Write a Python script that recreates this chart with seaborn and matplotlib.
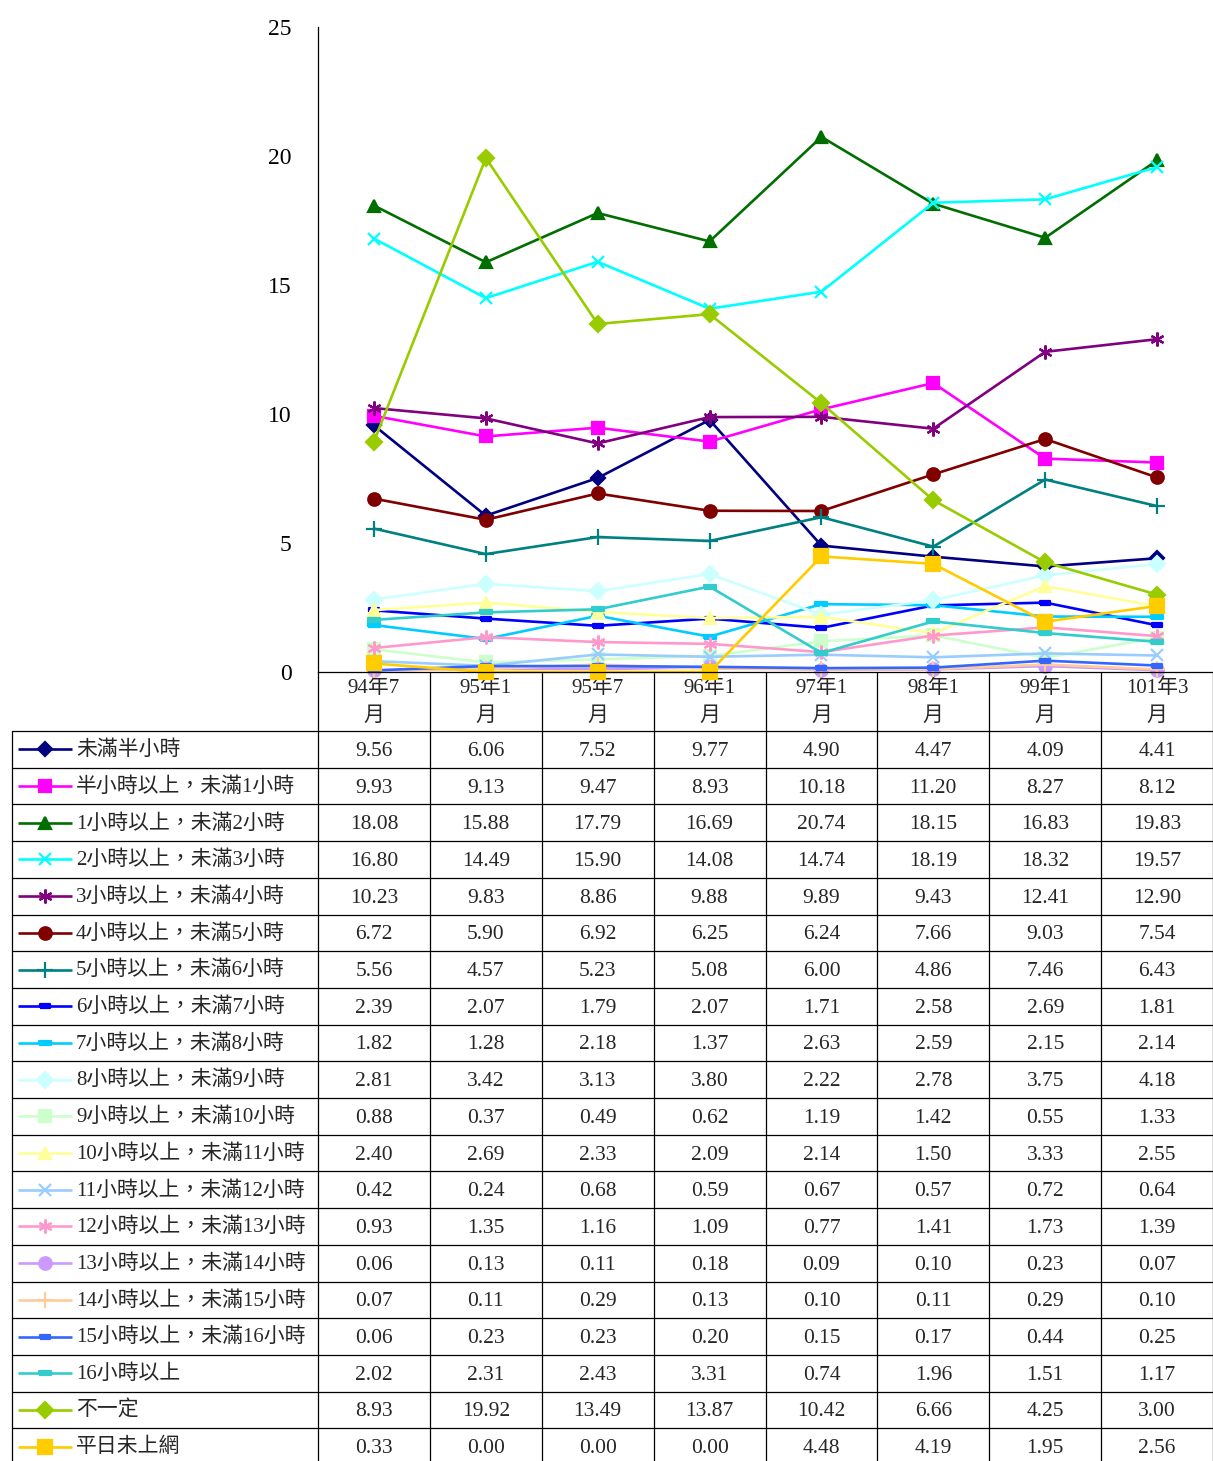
import numpy as np
import pandas as pd
import matplotlib
matplotlib.use("Agg")
import matplotlib.pyplot as plt
import seaborn as sns

periods = ["94年7\n月", "95年1\n月", "95年7\n月", "96年1\n月", "97年1\n月", "98年1\n月", "99年1\n月", "101年3\n月"]

series_names = [
    "未滿半小時", "半小時以上，未滿1小時", "1小時以上，未滿2小時", "2小時以上，未滿3小時",
    "3小時以上，未滿4小時", "4小時以上，未滿5小時", "5小時以上，未滿6小時", "6小時以上，未滿7小時",
    "7小時以上，未滿8小時", "8小時以上，未滿9小時", "9小時以上，未滿10小時", "10小時以上，未滿11小時",
    "11小時以上，未滿12小時", "12小時以上，未滿13小時", "13小時以上，未滿14小時", "14小時以上，未滿15小時",
    "15小時以上，未滿16小時", "16小時以上", "不一定", "平日未上網",
]

v_lt_half = [9.56, 6.06, 7.52, 9.77, 4.90, 4.47, 4.09, 4.41]
v_half_1 = [9.93, 9.13, 9.47, 8.93, 10.18, 11.20, 8.27, 8.12]
v_1_2 = [18.08, 15.88, 17.79, 16.69, 20.74, 18.15, 16.83, 19.83]
v_2_3 = [16.80, 14.49, 15.90, 14.08, 14.74, 18.19, 18.32, 19.57]
v_3_4 = [10.23, 9.83, 8.86, 9.88, 9.89, 9.43, 12.41, 12.90]
v_4_5 = [6.72, 5.90, 6.92, 6.25, 6.24, 7.66, 9.03, 7.54]
v_5_6 = [5.56, 4.57, 5.23, 5.08, 6.00, 4.86, 7.46, 6.43]
v_6_7 = [2.39, 2.07, 1.79, 2.07, 1.71, 2.58, 2.69, 1.81]
v_7_8 = [1.82, 1.28, 2.18, 1.37, 2.63, 2.59, 2.15, 2.14]
v_8_9 = [2.81, 3.42, 3.13, 3.80, 2.22, 2.78, 3.75, 4.18]
v_9_10 = [0.88, 0.37, 0.49, 0.62, 1.19, 1.42, 0.55, 1.33]
v_10_11 = [2.40, 2.69, 2.33, 2.09, 2.14, 1.50, 3.33, 2.55]
v_11_12 = [0.42, 0.24, 0.68, 0.59, 0.67, 0.57, 0.72, 0.64]
v_12_13 = [0.93, 1.35, 1.16, 1.09, 0.77, 1.41, 1.73, 1.39]
v_13_14 = [0.06, 0.13, 0.11, 0.18, 0.09, 0.10, 0.23, 0.07]
v_14_15 = [0.07, 0.11, 0.29, 0.13, 0.10, 0.11, 0.29, 0.10]
v_15_16 = [0.06, 0.23, 0.23, 0.20, 0.15, 0.17, 0.44, 0.25]
v_16_up = [2.02, 2.31, 2.43, 3.31, 0.74, 1.96, 1.51, 1.17]
v_varies = [8.93, 19.92, 13.49, 13.87, 10.42, 6.66, 4.25, 3.00]
v_none = [0.33, 0.00, 0.00, 0.00, 4.48, 4.19, 1.95, 2.56]

series_values = [v_lt_half, v_half_1, v_1_2, v_2_3, v_3_4, v_4_5, v_5_6, v_6_7, v_7_8, v_8_9,
                 v_9_10, v_10_11, v_11_12, v_12_13, v_13_14, v_14_15, v_15_16, v_16_up, v_varies, v_none]

# styles (Excel-like palette and markers)
dash = [(-1, -0.35), (1, -0.35), (1, 0.35), (-1, 0.35), (-1, -0.35)]
star = (6, 2, 0)
colors = ["#000080", "#FF00FF", "#006E00", "#00FFFF", "#800080", "#800000", "#008080", "#0000FF",
          "#00CCFF", "#CCFFFF", "#CCFFCC", "#FFFF99", "#99CCFF", "#FF99CC", "#CC99FF", "#FFCC99",
          "#3366FF", "#33CCCC", "#99CC00", "#FFCC00"]
markers = ["D", "s", "^", "x", star, "o", "+", dash, dash, "D",
           "s", "^", "x", star, "o", "+", dash, dash, "D", "s"]
msizes = [7, 9, 9, 9, 10, 9, 11, 7, 8, 8, 9, 9, 9, 10, 9, 11, 7, 8, 8, 10]

df = pd.DataFrame({name: vals for name, vals in zip(series_names, series_values)})
df["x"] = np.arange(len(periods))

# layout (pixels)
W, H = 1213, 1461
left_col = 318
plot_top, plot_bot = 27, 672
hdr_bot = 731
row_h = 36.7
tab_left = 12
col_w = (W - left_col) / len(periods)

sns.set_style("white")
plt.rcParams["font.family"] = ["Liberation Serif", "Noto Sans CJK TC"]

fig = plt.figure(figsize=(W / 100, H / 100), dpi=100)
fig.patch.set_facecolor("white")

# table layer in pixel coordinates
tab = fig.add_axes([0, 0, 1, 1])
tab.set_xlim(0, W)
tab.set_ylim(H, 0)
tab.axis("off")

ax = fig.add_axes([left_col / W, 1 - plot_bot / H, (W - left_col) / W, (plot_bot - plot_top) / H])
ax.set_zorder(2)
ax.patch.set_alpha(0)

lw = 1.9
for name, c, m, ms in zip(series_names, colors, markers, msizes):
    sns.lineplot(data=df, x="x", y=name, ax=ax, color=c, marker=m, markersize=ms,
                 markeredgecolor=c, markeredgewidth=1.6, linewidth=lw, clip_on=False,
                 legend=False)

ax.set_xlim(-0.5, len(periods) - 0.5)
ax.set_ylim(0, 25)
ax.set_yticks(np.arange(0, 26, 5))
ax.set_xticks([])
ax.set_xlabel("")
ax.set_ylabel("")
for s in ["top", "right"]:
    ax.spines[s].set_visible(False)
for s in ["left", "bottom"]:
    ax.spines[s].set_color("black")
    ax.spines[s].set_linewidth(0.9)
ax.tick_params(axis="y", direction="out", length=4, width=0.9, pad=15, labelsize=17, colors="black")

# table grid
n_rows = len(series_names)
bounds = [hdr_bot + i * row_h for i in range(n_rows + 1)]
lc = dict(color="black", lw=0.9)
for yb in bounds:
    tab.plot([tab_left, W], [yb, yb], **lc)
tab.plot([tab_left, tab_left], [hdr_bot, H], **lc)
tab.plot([left_col, left_col], [plot_bot, H], **lc)
for k in range(1, len(periods) + 1):
    xk = min(left_col + k * col_w, W - 0.5)
    tab.plot([xk, xk], [plot_bot, H], **lc)

# header (category labels)
for i, p in enumerate(periods):
    xc = left_col + (i + 0.5) * col_w
    l1, l2 = p.split("\n")
    tab.text(xc, 688, l1, ha="center", va="center", fontsize=15)
    tab.text(xc, 716, l2, ha="center", va="center", fontsize=15)

# rows: legend key + values
for r, (name, vals, c, m, ms) in enumerate(zip(series_names, series_values, colors, markers, msizes)):
    yc = hdr_bot + (r + 0.5) * row_h
    tab.plot([18, 72], [yc, yc], color=c, lw=lw, solid_capstyle="butt")
    tab.plot([45], [yc], color=c, marker=m, markersize=ms, markeredgecolor=c, markeredgewidth=1.6)
    tab.text(76, yc + 1, name, ha="left", va="center", fontsize=15)
    for i, v in enumerate(vals):
        xc = left_col + (i + 0.5) * col_w
        tab.text(xc, yc + 2, "{:.2f}".format(v), ha="center", va="center", fontsize=15.5)

fig.savefig("out.png", dpi=100, facecolor="white")
